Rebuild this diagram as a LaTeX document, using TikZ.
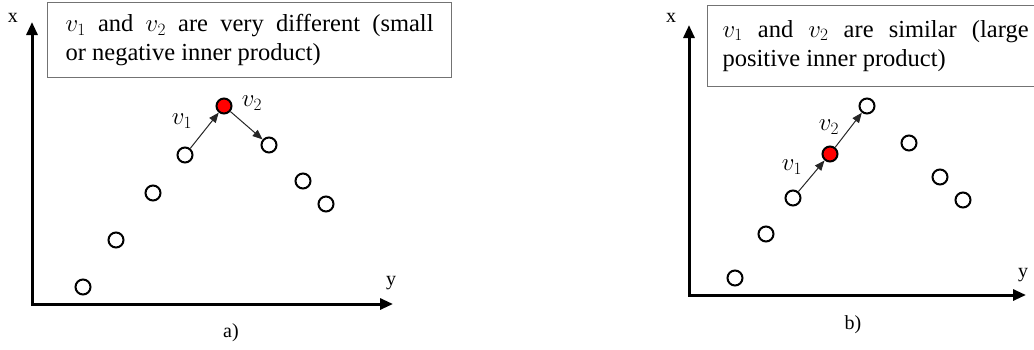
\documentclass[tikz,border=0pt]{standalone}
\usepackage{fontspec}
\setmainfont{Liberation Serif}
\usetikzlibrary{arrows.meta}

\begin{document}
\begin{tikzpicture}[
  x=1pt, y=-1pt,
  font=\fontsize{24.5}{29.5}\selectfont,
  dot/.style={circle, draw=black, line width=2pt, minimum size=15pt, inner sep=0pt, fill=white},
  hot/.style={dot, fill=red},
  axis/.style={line width=3pt, line join=miter, {Triangle[length=13pt,width=11pt]}-{Triangle[length=13pt,width=11pt]}},
  vec/.style={line width=1pt, black!85, -{Triangle[length=10pt,width=8pt]}},
  lab/.style={font=\fontsize{20}{22}\selectfont, inner sep=0pt},
  vlab/.style={inner sep=0pt},
  note/.style={draw=black!55, line width=1.2pt, align=justify, text width=#1, anchor=north west}]
\clip (0,0) rectangle (1034,349);
% left panel: very different
\node[note=368pt, inner xsep=18pt, inner ysep=11.5pt] (boxA) at (47,2)
  {$v_1$ and $v_2$ are very different (small\linebreak or negative inner product)};
\coordinate (oA) at (32,304);
\coordinate (xA) at (32,22);
\coordinate (yA) at (393,304);
\draw[axis] (xA) -- (oA) -- (yA);
\node[lab] (xlabA) at (13,18) {x};
\node[lab] (ylabA) at (391,283) {y};
\node[lab] (capA) at (231,333) {a)};
\node[dot] (a1) at (83,287) {};
\node[dot] (a2) at (116,240) {};
\node[dot] (a3) at (153,193) {};
\node[dot] (a4) at (185,155) {};
\node[hot] (a5) at (224,106) {};
\node[dot] (a6) at (269,145) {};
\node[dot] (a7) at (303,181) {};
\node[dot] (a8) at (326,204) {};
\draw[vec] (a4) -- (a5);
\draw[vec] (a5) -- (a6);
\node[vlab] (v1A) at (182,121) {$v_1$};
\node[vlab] (v2A) at (252,103) {$v_2$};
% right panel: similar
\node[note=306pt, inner xsep=15pt, inner ysep=14.5pt] (boxB) at (707,5)
  {$v_1$ and $v_2$ are similar (large\linebreak positive inner product)};
\coordinate (oB) at (689,295);
\coordinate (xB) at (689,25);
\coordinate (yB) at (1026,295);
\draw[axis] (xB) -- (oB) -- (yB);
\node[lab] (xlabB) at (671,18) {x};
\node[lab] (ylabB) at (1023,275) {y};
\node[lab] (capB) at (853,325) {b)};
\node[dot] (b1) at (735,278) {};
\node[dot] (b2) at (766,234) {};
\node[dot] (b3) at (793,198) {};
\node[hot] (b4) at (830,154) {};
\node[dot] (b5) at (867,106) {};
\node[dot] (b6) at (909,143) {};
\node[dot] (b7) at (940,177) {};
\node[dot] (b8) at (963,200) {};
\draw[vec] (b3) -- (b4);
\draw[vec] (b4) -- (b5);
\node[vlab] (v2B) at (829,127) {$v_2$};
\node[vlab] (v1B) at (792,167) {$v_1$};
\end{tikzpicture}
\end{document}
